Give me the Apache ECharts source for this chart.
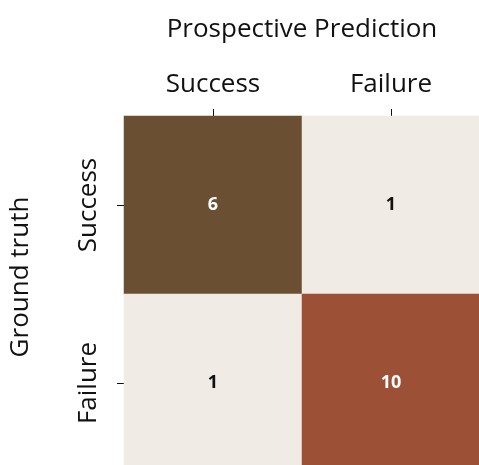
<!DOCTYPE html>
<html>
<head>
<meta charset="utf-8">
<script src="https://cdn.jsdelivr.net/npm/echarts@6/dist/echarts.min.js"></script>
<style>
  html, body { margin: 0; padding: 0; background: #fff; }
  #chart { width: 479px; height: 465px; }
</style>
</head>
<body>
<div id="chart"></div>
<script>
// prediction classes (columns) and ground truth classes (rows)
const predLabels = ['Success', 'Failure'];
const truthLabels = ['Success', 'Failure'];
// counts[row][col]
const counts = [
  [6, 1],
  [1, 10]
];

const cellColors = { 1: '#F0ECE5', 6: '#6B4F32', 10: '#9C5137' };
const textColors = { 1: '#111111', 6: '#ffffff', 10: '#ffffff' };

const data = [];
counts.forEach((row, r) => {
  row.forEach((v, c) => {
    data.push({
      value: [c, r, v],
      itemStyle: { color: cellColors[v] },
      label: { color: textColors[v] }
    });
  });
});

const chart = echarts.init(document.getElementById('chart'));
const font = 'Open Sans';

chart.setOption({
  animation: false,
  grid: { left: 124, top: 116, width: 356, height: 356, outerBoundsMode: 'none' },
  xAxis: {
    type: 'category',
    position: 'top',
    data: predLabels,
    name: 'Prospective Prediction',
    nameLocation: 'middle',
    nameGap: 73,
    nameTextStyle: { fontFamily: font, fontSize: 26, color: '#111' },
    axisLine: { show: false },
    axisTick: { show: true, alignWithLabel: true, length: 7, lineStyle: { color: '#111' } },
    axisLabel: { fontFamily: font, fontSize: 26, color: '#111', margin: 18 },
    splitLine: { show: false }
  },
  yAxis: {
    type: 'category',
    inverse: true,
    data: truthLabels,
    name: 'Ground truth',
    nameLocation: 'middle',
    nameGap: 90,
    nameRotate: 90,
    nameTextStyle: { fontFamily: font, fontSize: 26, color: '#111', padding: [0, 0, 0, 34] },
    axisLine: { show: false },
    axisTick: { show: true, alignWithLabel: true, length: 7, lineStyle: { color: '#111' } },
    axisLabel: { fontFamily: font, fontSize: 26, color: '#111', rotate: 90, margin: 22 },
    splitLine: { show: false }
  },
  series: [{
    type: 'heatmap',
    data: data,
    label: {
      show: true,
      fontFamily: font,
      fontSize: 18,
      fontWeight: 'bold',
      formatter: p => p.value[2]
    },
    itemStyle: { borderWidth: 0 },
    emphasis: { disabled: true }
  }]
});
</script>
</body>
</html>
